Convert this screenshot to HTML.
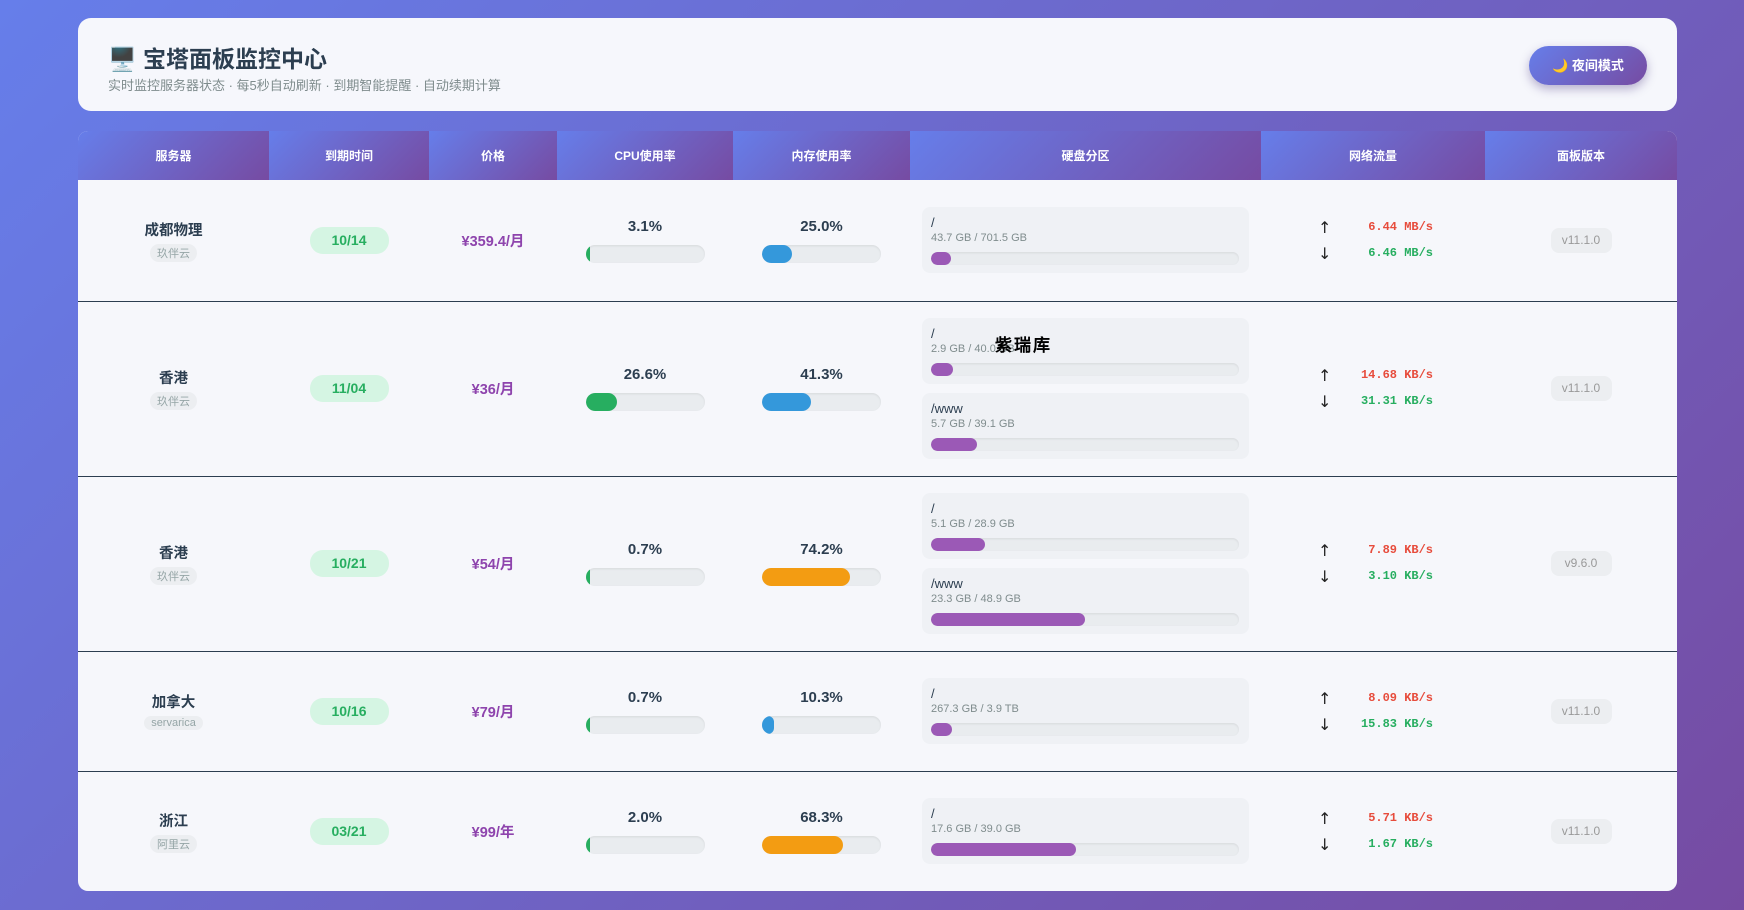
<!DOCTYPE html>
<html><head><meta charset="utf-8"><style>
*{margin:0;padding:0;box-sizing:border-box}
body{width:1744px;height:910px;overflow:hidden;background:linear-gradient(135deg,#667eea,#764ba2);font-family:"Liberation Sans","Noto Sans CJK SC",sans-serif;position:relative}
.hdr{position:absolute;left:78px;top:18px;width:1599px;height:93px;background:#f6f7fc;border-radius:13px}
.hdr h1{position:absolute;left:30px;top:22px;font-size:23px;color:#2c3e50;font-weight:bold}
.hdr p{position:absolute;left:30px;top:57px;font-size:13px;color:#7f8c8d}
.btn{position:absolute;left:1451px;top:28px;width:118px;height:39px;border-radius:20px;background:linear-gradient(135deg,#667eea,#764ba2);color:#fff;font-size:13px;font-weight:bold;text-align:center;line-height:39px;box-shadow:0 4px 10px rgba(60,40,120,.35)}
table{position:absolute;left:78px;top:131px;width:1599px;border-collapse:collapse;background:#f6f7fb;border-radius:10px;overflow:hidden;table-layout:fixed}
th{height:49px;background:linear-gradient(135deg,#667eea,#764ba2);color:#fff;font-size:12px;font-weight:bold}
td{text-align:center;vertical-align:middle;border-top:1px solid #2c3e50}
tr:nth-child(2) td{border-top:none}
.nm{font-size:14.5px;font-weight:bold;color:#2c3e50}
.tag{display:inline-block;margin-top:4px;font-size:11px;color:#95a5a6;background:#eceef1;border-radius:9px;padding:1px 7px}
.dt{display:inline-block;width:79px;height:27px;line-height:27px;border-radius:13px;background:#d5f5e3;color:#27ae60;font-weight:bold;font-size:14px}
.pr{color:#8e44ad;font-weight:bold;font-size:14.5px}
.pc{font-size:15px;font-weight:bold;color:#2c3e50;margin-bottom:10px}
.bar{width:119px;height:18px;border-radius:9px;background:#e9ecef;margin:0 auto;overflow:hidden;box-shadow:inset 0 1px 2px rgba(0,0,0,.08)}
.bar i{display:block;height:100%;border-radius:9px;min-width:4px}
.dk{width:327px;height:66px;background:#eff1f5;border-radius:8px;margin:0 0 9px 12px;text-align:left;padding:8px 10px 0 9px}
.dk:last-child{margin-bottom:0}
.dk b{display:block;font-size:13px;color:#2c3e50;font-weight:normal;height:17px}
.dk s{display:block;text-decoration:none;font-size:11px;color:#7f8c8d;height:20px}
.db{height:13px;border-radius:7px;background:#e9ecef;overflow:hidden;box-shadow:inset 0 1px 2px rgba(0,0,0,.08)}
.db i{display:block;height:100%;border-radius:7px;background:#9b59b6;min-width:20px}
.nt{display:flex;flex-direction:column;gap:9px;font-family:"Liberation Mono",monospace;font-weight:bold;font-size:12px;width:115px;margin-left:57px}
.nt div{display:flex;justify-content:space-between;height:17px;line-height:17px}
.nt span:first-child{color:#222;font-size:16px;font-family:"DejaVu Sans",sans-serif;font-weight:normal}
.up{color:#e74c3c}.dn{color:#27ae60}
.vr{display:inline-block;width:61px;height:25px;line-height:25px;border-radius:8px;background:#eceef1;color:#999;font-size:12px}
.g{background:#27ae60}.b{background:#3498db}.o{background:#f39c12}
.wm{position:absolute;left:995px;top:331px;font-size:17px;font-weight:bold;color:#000;font-family:"WenQuanYi Zen Hei",sans-serif;letter-spacing:2px}
</style></head><body>
<div class="hdr"><h1>🖥️ 宝塔面板监控中心</h1><p>实时监控服务器状态 · 每5秒自动刷新 · 到期智能提醒 · 自动续期计算</p><div class="btn">🌙 夜间模式</div></div>
<table>
<colgroup><col style="width:191px"><col style="width:160px"><col style="width:128px"><col style="width:176px"><col style="width:177px"><col style="width:351px"><col style="width:224px"><col style="width:192px"></colgroup>
<tr><th>服务器</th><th>到期时间</th><th>价格</th><th>CPU使用率</th><th>内存使用率</th><th>硬盘分区</th><th>网络流量</th><th>面板版本</th></tr>
<tr style="height:121px"><td><div class="nm">成都物理</div><span class="tag">玖伴云</span></td><td><span class="dt">10/14</span></td><td class="pr">¥359.4/月</td>
<td><div class="pc">3.1%</div><div class="bar"><i class="g" style="width:3.1%"></i></div></td>
<td><div class="pc">25.0%</div><div class="bar"><i class="b" style="width:25%"></i></div></td>
<td><div class="dk"><b>/</b><s>43.7 GB / 701.5 GB</s><div class="db"><i style="width:6%"></i></div></div></td>
<td><div class="nt"><div><span>↑</span><span class="up">6.44 MB/s</span></div><div><span>↓</span><span class="dn">6.46 MB/s</span></div></div></td><td><span class="vr">v11.1.0</span></td></tr>
<tr style="height:175px"><td><div class="nm">香港</div><span class="tag">玖伴云</span></td><td><span class="dt">11/04</span></td><td class="pr">¥36/月</td>
<td><div class="pc">26.6%</div><div class="bar"><i class="g" style="width:26.6%"></i></div></td>
<td><div class="pc">41.3%</div><div class="bar"><i class="b" style="width:41.3%"></i></div></td>
<td><div class="dk"><b>/</b><s>2.9 GB / 40.0 GB</s><div class="db"><i style="width:7%"></i></div></div><div class="dk"><b>/www</b><s>5.7 GB / 39.1 GB</s><div class="db"><i style="width:15%"></i></div></div></td>
<td><div class="nt"><div><span>↑</span><span class="up">14.68 KB/s</span></div><div><span>↓</span><span class="dn">31.31 KB/s</span></div></div></td><td><span class="vr">v11.1.0</span></td></tr>
<tr style="height:175px"><td><div class="nm">香港</div><span class="tag">玖伴云</span></td><td><span class="dt">10/21</span></td><td class="pr">¥54/月</td>
<td><div class="pc">0.7%</div><div class="bar"><i class="g" style="width:0.7%"></i></div></td>
<td><div class="pc">74.2%</div><div class="bar"><i class="o" style="width:74.2%"></i></div></td>
<td><div class="dk"><b>/</b><s>5.1 GB / 28.9 GB</s><div class="db"><i style="width:17.6%"></i></div></div><div class="dk"><b>/www</b><s>23.3 GB / 48.9 GB</s><div class="db"><i style="width:50%"></i></div></div></td>
<td><div class="nt"><div><span>↑</span><span class="up">7.89 KB/s</span></div><div><span>↓</span><span class="dn">3.10 KB/s</span></div></div></td><td><span class="vr">v9.6.0</span></td></tr>
<tr style="height:120px"><td><div class="nm">加拿大</div><span class="tag">servarica</span></td><td><span class="dt">10/16</span></td><td class="pr">¥79/月</td>
<td><div class="pc">0.7%</div><div class="bar"><i class="g" style="width:0.7%"></i></div></td>
<td><div class="pc">10.3%</div><div class="bar"><i class="b" style="width:10.3%"></i></div></td>
<td><div class="dk"><b>/</b><s>267.3 GB / 3.9 TB</s><div class="db"><i style="width:6.7%"></i></div></div></td>
<td><div class="nt"><div><span>↑</span><span class="up">8.09 KB/s</span></div><div><span>↓</span><span class="dn">15.83 KB/s</span></div></div></td><td><span class="vr">v11.1.0</span></td></tr>
<tr style="height:120px"><td><div class="nm">浙江</div><span class="tag">阿里云</span></td><td><span class="dt">03/21</span></td><td class="pr">¥99/年</td>
<td><div class="pc">2.0%</div><div class="bar"><i class="g" style="width:2%"></i></div></td>
<td><div class="pc">68.3%</div><div class="bar"><i class="o" style="width:68.3%"></i></div></td>
<td><div class="dk"><b>/</b><s>17.6 GB / 39.0 GB</s><div class="db"><i style="width:47%"></i></div></div></td>
<td><div class="nt"><div><span>↑</span><span class="up">5.71 KB/s</span></div><div><span>↓</span><span class="dn">1.67 KB/s</span></div></div></td><td><span class="vr">v11.1.0</span></td></tr>
</table>
<div class="wm">紫瑞库</div>
</body></html>
